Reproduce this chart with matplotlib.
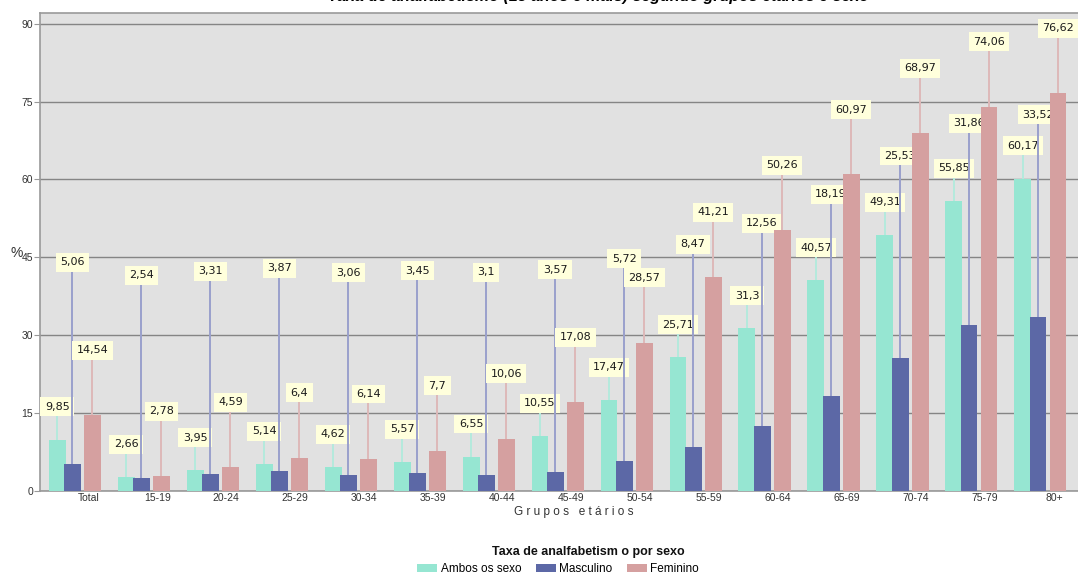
import matplotlib.pyplot as plt
import numpy as np

plt.rcParams["font.family"] = ["Liberation Sans", "DejaVu Sans"]

# data
grupos = ["Total", "15-19", "20-24", "25-29", "30-34", "35-39", "40-44", "45-49",
          "50-54", "55-59", "60-64", "65-69", "70-74", "75-79", "80+"]
ambos = [9.85, 2.66, 3.95, 5.14, 4.62, 5.57, 6.55, 10.55,
         17.47, 25.71, 31.3, 40.57, 49.31, 55.85, 60.17]
masculino = [5.06, 2.54, 3.31, 3.87, 3.06, 3.45, 3.1, 3.57,
             5.72, 8.47, 12.56, 18.19, 25.53, 31.86, 33.52]
feminino = [14.54, 2.78, 4.59, 6.4, 6.14, 7.7, 10.06, 17.08,
            28.57, 41.21, 50.26, 60.97, 68.97, 74.06, 76.62]
series_names = ["Ambos os sexo", "Masculino", "Feminino"]

# bar colour, leader colour, x offset, label lift (data units)
styles = [
    ("#96e6d2", "#b4eadc", -0.45, 6.3),
    ("#5c68a6", "#9aa0cc", -0.23, 39.0),
    ("#d5a0a0", "#ddb8b8", 0.06, 12.5),
]

fig = plt.figure(figsize=(10.78, 5.74), dpi=100)
ax = fig.add_axes([40 / 1078, 1 - 490.7 / 574, 1 - 40 / 1078, (490.7 - 13) / 574])
ax.set_facecolor("#e1e1e1")

x = np.arange(len(grupos))
width = 0.245
handles = []
for k, (vals, (color, lcolor, off, lift)) in enumerate(zip([ambos, masculino, feminino], styles)):
    z = 3 + k * 3
    bars = ax.bar(x + off, vals, width, color=color, zorder=z)
    handles.append(bars)
    for xi, v in zip(x + off, vals):
        ax.plot([xi, xi], [v, v + lift], color=lcolor, lw=1.4, zorder=z - 1)
        ax.text(xi, v + lift, f"{v:g}".replace(".", ","), ha="center", va="center",
                fontsize=8, family="DejaVu Sans", color="#1a1a1a", zorder=z + 1,
                bbox=dict(boxstyle="square,pad=0.4", facecolor="#ffffdc", edgecolor="none"))

ax.set_xlim(-0.70, 14.35)
ax.set_ylim(0, 92.1)
ax.set_yticks(np.arange(0, 91, 15))
ax.set_xticks(x)
ax.set_xticklabels(grupos)
ax.tick_params(axis="x", length=0, labelsize=7.5, colors="#333333", pad=2)
ax.tick_params(axis="y", length=4, labelsize=7.5, colors="#333333", pad=1, direction="out")
ax.tick_params(axis="y", color="#999999")
ax.yaxis.grid(True, color="#858585", lw=1.0, zorder=1)
ax.set_axisbelow(True)
for side in ["left", "bottom", "top"]:
    ax.spines[side].set_color("#999999")
    ax.spines[side].set_linewidth(1.2)
ax.spines["right"].set_visible(False)

fig.text(0.555, 1.006, "Taxa de analfabetismo (15 anos e mais) segundo grupos etários e sexo",
         ha="center", va="center", fontsize=11.5, fontweight="bold", style="italic")
fig.text(17 / 1078, 1 - 253 / 574, "%", ha="center", va="center", fontsize=10, color="#333333")
fig.text(574 / 1078, 1 - 512 / 574, "G r u p o s   e t á r i o s", ha="center", va="center",
         fontsize=8.5, color="#333333")

fig.text(588 / 1078, 1 - 552 / 574, "Taxa de analfabetism o por sexo",
         ha="center", va="center", fontsize=9, fontweight="bold", color="#111111")
fig.legend(handles, series_names, loc="center", bbox_to_anchor=(558 / 1078, 1 - 569 / 574),
           ncol=3, frameon=False, fontsize=8.5,
           handlelength=1.7, handleheight=0.7, handletextpad=0.3, columnspacing=1.2,
           borderpad=0)

fig.savefig("out.png", dpi=100)
